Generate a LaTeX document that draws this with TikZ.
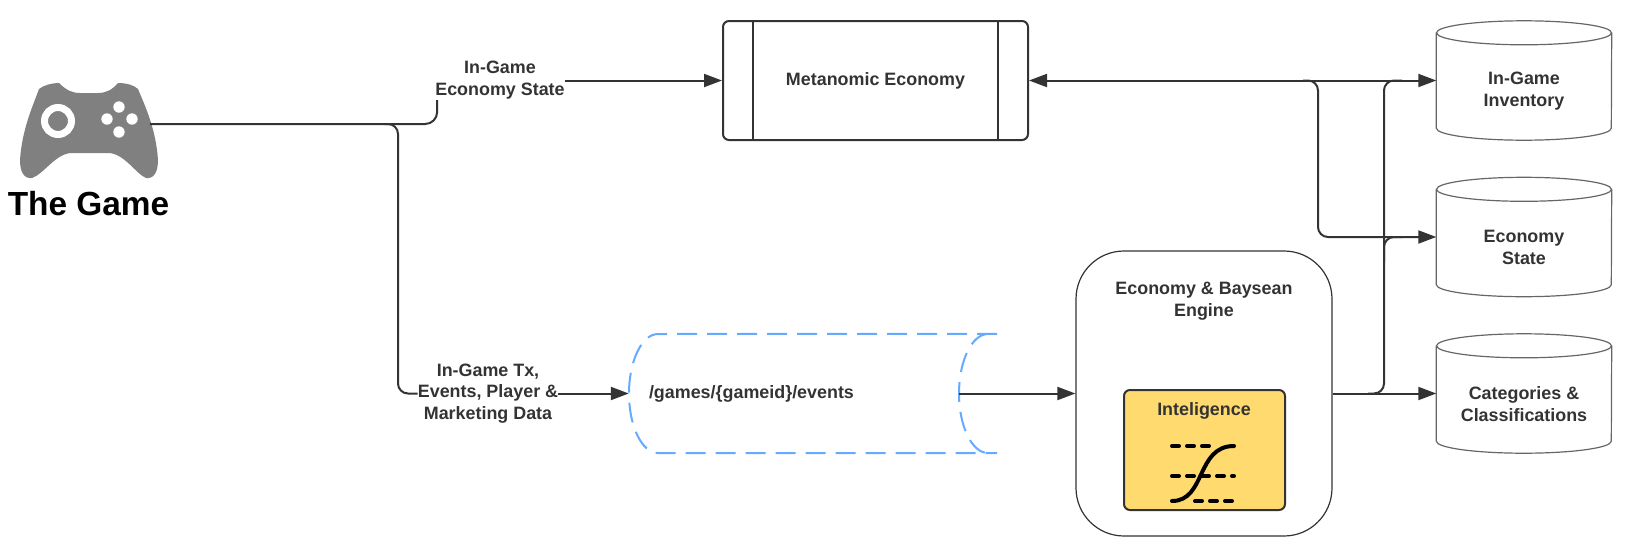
\documentclass[tikz,border=0pt]{standalone}
\usepackage{fontspec}
\setmainfont{Liberation Sans}
\usepackage{xcolor}
\usetikzlibrary{arrows.meta}
\definecolor{inkdark}{HTML}{333333}
\definecolor{padgray}{HTML}{808080}
\definecolor{drumgray}{HTML}{666666}
\definecolor{topicblue}{HTML}{66AAFF}
\definecolor{intelfill}{HTML}{FFDA6F}
\newcommand{\drumline}[1]{
	\draw[drumedge] ([yshift=-12pt]#1.north) ellipse (87.5 and 12);
	\draw[drumedge] ([yshift=-12pt]#1.north west) -- ([yshift=12pt]#1.south west) arc (180:0:87.5 and 12) -- ([yshift=-12pt]#1.north east);
}
\tikzset{
	wire/.style={draw=inkdark, line width=2pt},
	wirehead/.style={wire, -{Triangle[length=18pt,width=13pt]}},
	caption/.style={font=\bfseries\fontsize{17.9}{21.8}\selectfont, text=inkdark, align=center, inner sep=0pt},
	drum/.style={inner sep=0pt, minimum width=175pt, minimum height=119pt},
	drumedge/.style={draw=drumgray, line width=1.2pt},
	topicline/.style={draw=topicblue, line width=2pt, dash pattern=on 20pt off 10pt},
	curveline/.style={draw=black, line width=4pt, line cap=round},
	levelline/.style={curveline, dash pattern=on 7pt off 8pt}
}
\begin{document}
\begin{tikzpicture}[x=1pt, y=-1pt]
	\useasboundingbox (0, 0) rectangle (1631, 557);
	% game pad
	\fill[padgray] (59, 83) .. controls (66, 90) and (72, 93) .. (80, 93) -- (98, 93)
		.. controls (106, 93) and (112, 90) .. (118, 83) .. controls (126, 83) and (134, 85) .. (138, 89)
		.. controls (146, 108) and (156, 130) .. (158, 160) .. controls (158, 172) and (154, 179) .. (146, 178)
		.. controls (136, 174) and (124, 153) .. (108, 153) -- (72, 153)
		.. controls (56, 153) and (44, 174) .. (32, 178) .. controls (24, 179) and (20, 172) .. (20, 160)
		.. controls (22, 130) and (32, 108) .. (39, 89) .. controls (44, 85) and (52, 83) .. (59, 83) -- cycle;
	\draw[white, line width=7pt] (58, 121) circle (13.5);
	\fill[white] (119, 107) circle (5.7);
	\fill[white] (107, 119) circle (5.7);
	\fill[white] (132, 119) circle (5.7);
	\fill[white] (119, 132) circle (5.7);
	\node[font=\bfseries\fontsize{33.4}{38}\selectfont, text=black, inner sep=0pt] (gametitle) at (88.5, 204) {The Game};
	% boxes
	\node[caption, draw=inkdark, line width=2pt, rounded corners=6pt, minimum width=305pt, minimum height=119pt] (meta) at (875.5, 80.5) {Metanomic Economy};
	\draw[wire] ([xshift=30.5]meta.north west) -- ([xshift=30.5]meta.south west);
	\draw[wire] ([xshift=-31.5]meta.north east) -- ([xshift=-31.5]meta.south east);
	\node[drum] (inventory) at (1524, 80.5) {};
	\node[drum] (ecostate) at (1524, 237) {};
	\node[drum] (catalog) at (1524, 393.5) {};
	\drumline{inventory}
	\drumline{ecostate}
	\drumline{catalog}
	\node[caption] (inventorytext) at ([yshift=-10.5pt]inventory.center) {In-Game\\Inventory};
	\node[caption] (ecostatetext) at ([yshift=-10.5pt]ecostate.center) {Economy\\State};
	\node[caption] (catalogtext) at ([yshift=-10.5pt]catalog.center) {Categories \&\\Classifications};
	\node[draw=inkdark, line width=1.2pt, rounded corners=48pt, minimum width=256pt, minimum height=285pt] (engine) at (1204, 393.5) {};
	\node[caption] (enginetext) at (1204, 301.5) {Economy \& Baysean\\Engine};
	\node[draw=inkdark, fill=intelfill, line width=2pt, rounded corners=6pt, minimum width=161pt, minimum height=120pt] (intel) at (1204.5, 450) {};
	\node[caption] (inteltext) at (1204, 411) {Inteligence};
	% level lines and curve
	\draw[levelline] (1172, 446) -- (1214, 446);
	\draw[levelline] (1172, 476) -- (1234, 476);
	\draw[levelline] (1195, 501) -- (1234, 501);
	\draw[curveline] (1172, 501) .. controls (1206, 501) and (1196, 446) .. (1234, 446);
	% topic
	\node[caption, minimum width=368pt, minimum height=119pt, text width=328pt, inner xsep=20pt, align=left] (topic) at (813, 393.5) {/games/\{gameid\}/events};
	\coordinate (topicout) at (959, 393.5);
	\draw[topicline] (topic.north east) -- (658, 334) arc (270:90:29 and 59.5) -- (topic.south east);
	\draw[topicline] (988, 334) arc (270:90:29 and 59.5);
	% labels
	\node[caption] (lblstate) at (500, 80) {In-Game\\Economy State};
	\node[caption] (lbltx) at (488, 393.5) {In-Game Tx,\\Events, Player \&\\Marketing Data};
	% connectors
	\coordinate (gamepad) at (150, 124);
	\coordinate (forkgame) at (385, 124);
	\coordinate (droptx) at (398, 393.5);
	\coordinate (forkmeta) at (1303, 80.5);
	\coordinate (dropstate) at (1318, 237);
	\coordinate (forkengine) at (1368, 393.5);
	\coordinate (riseinv) at (1384, 80.5);
	\coordinate (endinv) at (1402, 80.5);
	\coordinate (risestate) at (1384, 262);
	\coordinate (endstate) at (1402, 237);
	\draw[wire, rounded corners=12pt] (gamepad) -| ([xshift=2pt,yshift=-1pt]lblstate.south west);
	\draw[wire, rounded corners=10pt] (forkgame) -| (droptx) -- (lbltx.west |- droptx);
	\draw[wirehead] (lblstate.east |- meta.west) -- (meta.west);
	\draw[wirehead] (lbltx.east |- topic.west) -- (topic.west);
	\draw[wirehead] (topicout) -- (engine.west);
	\draw[wire, {Triangle[length=18pt,width=13pt]}-{Triangle[length=18pt,width=13pt]}] (meta.east) -- (inventory.west);
	\draw[wirehead] (engine.east) -- (catalog.west);
	\draw[wirehead, rounded corners=10pt] (forkmeta) -| (dropstate) -- (ecostate.west);
	\draw[wire, rounded corners=10pt] (forkengine) -| (riseinv) -- (endinv);
	\draw[wire, rounded corners=10pt] (risestate) |- (endstate);
\end{tikzpicture}
\end{document}
